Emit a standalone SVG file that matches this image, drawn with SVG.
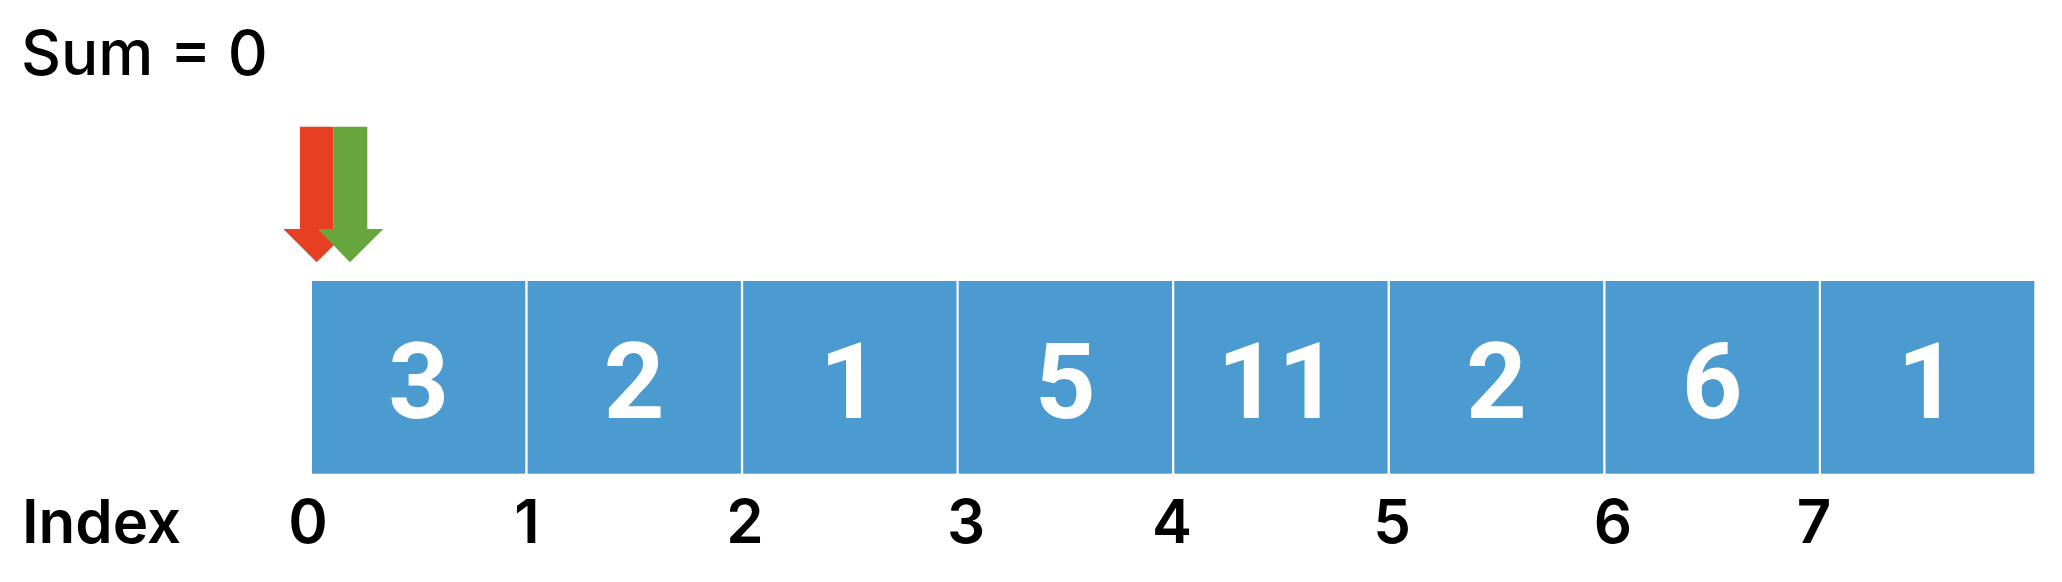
<svg xmlns="http://www.w3.org/2000/svg" width="2062" height="582" viewBox="0 0 2062 582">
<style>
.cell{fill:#4b9bd1}
.val{font-family:Roboto,"Liberation Sans",sans-serif;font-weight:700;font-size:106px;fill:#fff;text-anchor:middle}
.idx{font-family:Inter,"Liberation Sans",sans-serif;font-weight:600;font-size:60px;fill:#000;text-anchor:middle}
.lbl{font-family:Inter,"Liberation Sans",sans-serif;fill:#000}
</style>
<rect width="2062" height="582" fill="#fff"/>
<g id="sum"><text class="lbl" x="21" y="75" font-size="62" font-weight="500">Sum = 0</text></g>
<g id="pointers">
<polygon id="red-arrow" points="300,126.7 333.3,126.7 333.3,229 350,229 316.7,262.3 283.3,229 300,229" fill="#e63f21"/>
<polygon id="green-arrow" points="333.3,126.7 367.3,126.7 367.3,229 383.3,229 350,262.3 317.7,229 333.3,229" fill="#67a53d"/>
</g>
<g id="cells">
<g id="cell0"><rect class="cell" x="312" y="281" width="213.3" height="192.7"/><text class="val" x="418.6" y="418">3</text></g>
<g id="cell1"><rect class="cell" x="527.6" y="281" width="213.3" height="192.7"/><text class="val" x="634.2" y="418">2</text></g>
<g id="cell2"><rect class="cell" x="743.2" y="281" width="213.3" height="192.7"/><text class="val" x="849.8" y="418">1</text></g>
<g id="cell3"><rect class="cell" x="958.7" y="281" width="213.3" height="192.7"/><text class="val" x="1065.3" y="418">5</text></g>
<g id="cell4"><rect class="cell" x="1174.3" y="281" width="213.3" height="192.7"/><text class="val" x="1278" y="418">11</text></g>
<g id="cell5"><rect class="cell" x="1389.9" y="281" width="213.3" height="192.7"/><text class="val" x="1496.5" y="418">2</text></g>
<g id="cell6"><rect class="cell" x="1605.5" y="281" width="213.3" height="192.7"/><text class="val" x="1712.1" y="418">6</text></g>
<g id="cell7"><rect class="cell" x="1821" y="281" width="213.3" height="192.7"/><text class="val" x="1927.6" y="418">1</text></g>
</g>
<g id="index">
<text class="lbl" x="22" y="542.5" font-size="60" font-weight="600">Index</text>
<text class="idx" x="308" y="542.5">0</text>
<text class="idx" x="527" y="542.5">1</text>
<text class="idx" x="745" y="542.5">2</text>
<text class="idx" x="966" y="542.5">3</text>
<text class="idx" x="1172" y="542.5">4</text>
<text class="idx" x="1392" y="542.5">5</text>
<text class="idx" x="1613" y="542.5">6</text>
<text class="idx" x="1814" y="542.5">7</text>
</g>
</svg>
